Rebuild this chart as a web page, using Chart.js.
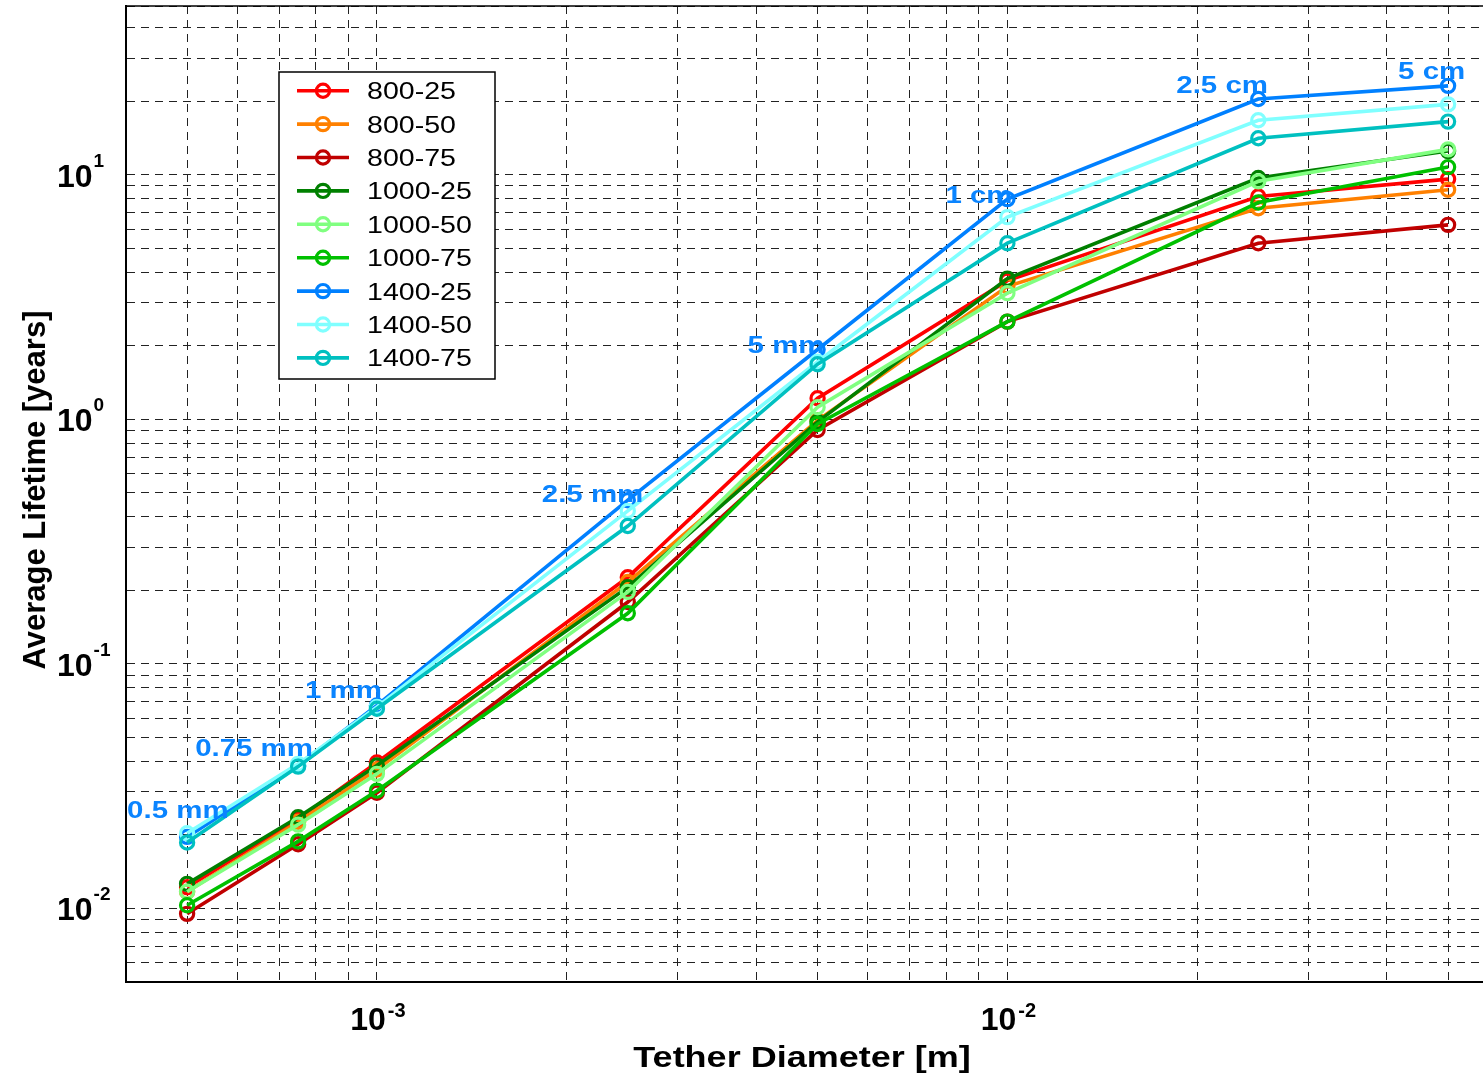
<!DOCTYPE html>
<html>
<head>
<meta charset="utf-8">
<script src="https://cdn.jsdelivr.net/npm/chart.js@4/dist/chart.umd.min.js"></script>
<style>
html,body{margin:0;padding:0;background:#fff;overflow:hidden;}
#wrap{width:1483px;height:1077px;position:relative;overflow:hidden;}
canvas{display:block;}
</style>
</head>
<body>
<div id="wrap"><canvas id="c" width="1483" height="1077"></canvas></div>
<script>
// ---------------- data ----------------
const diameters = [5e-4, 7.5e-4, 1e-3, 2.5e-3, 5e-3, 1e-2, 2.5e-2, 5e-2];
const sizeLabels = ['0.5 mm', '0.75 mm', '1 mm', '2.5 mm', '5 mm', '1 cm', '2.5 cm', '5 cm'];
const seriesNames = ['800-25', '800-50', '800-75', '1000-25', '1000-50', '1000-75', '1400-25', '1400-50', '1400-75'];

const s800_25  = [0.0122, 0.0232, 0.0395, 0.226, 1.22, 3.69, 8.15, 9.6];
const s800_50  = [0.0117, 0.0226, 0.0370, 0.216, 0.99, 3.50, 7.3, 8.68];
const s800_75  = [0.0095, 0.0183, 0.0297, 0.179, 0.904, 2.51, 5.25, 6.24];
const s1000_25 = [0.0126, 0.0236, 0.0384, 0.206, 0.977, 3.76, 9.7, 12.5];
const s1000_50 = [0.0117, 0.0220, 0.0355, 0.197, 1.12, 3.28, 9.4, 12.7];
const s1000_75 = [0.0103, 0.0188, 0.0303, 0.161, 0.957, 2.51, 7.7, 10.75];
const s1400_25 = [0.0196, 0.0384, 0.0676, 0.467, 1.93, 7.95, 20.4, 23.1];
const s1400_50 = [0.0203, 0.0390, 0.0667, 0.422, 1.72, 6.71, 16.7, 19.4];
const s1400_75 = [0.0186, 0.0380, 0.0655, 0.366, 1.68, 5.25, 14.1, 16.5];

const seriesValues = [s800_25, s800_50, s800_75, s1000_25, s1000_50, s1000_75, s1400_25, s1400_50, s1400_75];

const xDecadeTicks = [1e-3, 1e-2];
const xTickExponents = ['-3', '-2'];
const yDecadeTicks = [1e-2, 1e-1, 1, 10];
const yTickExponents = ['-2', '-1', '0', '1'];
const xRange = [4e-4, 0.0568];
const yRange = [0.005, 49];

const xTitle = 'Tether Diameter [m]';
const yTitle = 'Average Lifetime [years]';

// ---------------- styles ----------------
const colors = ['#FF0000', '#FF8000', '#C00000', '#008000', '#80FF80', '#00C000', '#0080FF', '#80FFFF', '#00C0C0'];
const FONT = "'Liberation Sans', Arial, Helvetica, sans-serif";
const LABEL_SERIES = 6; // size labels are attached to the 1400-25 curve
const labelOffsets = [[-60, -19], [-103, -9], [-72, -7], [-86, 2], [-70, 4], [-62, 4], [-82, -6], [-50, -7]];

function logTicks(min, max) {
  const out = [];
  for (let e = Math.floor(Math.log10(min)) - 1; e <= Math.ceil(Math.log10(max)); e++) {
    for (let m = 1; m <= 9; m++) {
      const v = parseFloat((m * Math.pow(10, e)).toPrecision(6));
      if (v >= min * 0.99999 && v <= max * 1.00001) out.push({ value: v });
    }
  }
  if (out.length === 0 || out[0].value > min) out.unshift({ value: min });
  if (out[out.length - 1].value < max) out.push({ value: max });
  return out;
}

function stretchText(ctx, text, x, y, sx, align) {
  const w = ctx.measureText(text).width * sx;
  let x0 = x;
  if (align === 'center') x0 = x - w / 2;
  else if (align === 'right') x0 = x - w;
  ctx.save();
  ctx.translate(x0, y);
  ctx.scale(sx, 1);
  ctx.textAlign = 'left';
  ctx.fillText(text, 0, 0);
  ctx.restore();
  return w;
}

const datasets = seriesNames.map((name, i) => ({
  label: name,
  data: diameters.map((d, j) => ({ x: d, y: seriesValues[i][j] })),
  borderColor: colors[i],
  backgroundColor: colors[i],
  borderWidth: 3.6,
  pointRadius: 6.6,
  pointHoverRadius: 6.6,
  pointBorderWidth: 3.2,
  pointBackgroundColor: 'rgba(255,255,255,0)',
  pointBorderColor: colors[i],
  tension: 0,
  fill: false,
  order: seriesNames.length - i
}));

const decorPlugin = {
  id: 'decor',
  afterDraw(chart) {
    const ctx = chart.ctx;
    const xs = chart.scales.x, ys = chart.scales.y;
    const ca = chart.chartArea;

    // top border
    ctx.save();
    ctx.strokeStyle = '#000';
    ctx.lineWidth = 1.5;
    ctx.beginPath();
    ctx.moveTo(ca.left, ca.top);
    ctx.lineTo(ca.right, ca.top);
    ctx.stroke();
    ctx.restore();

    ctx.save();
    ctx.fillStyle = '#000';
    ctx.textBaseline = 'alphabetic';

    // y tick labels
    yDecadeTicks.forEach((v, i) => {
      const py = ys.getPixelForValue(v);
      ctx.font = 'bold 32px ' + FONT;
      const w = ctx.measureText('10').width;
      ctx.fillText('10', 57, py + 12);
      ctx.font = 'bold 19px ' + FONT;
      ctx.fillText(yTickExponents[i], 57 + w + 1, py - 8);
    });

    // x tick labels
    xDecadeTicks.forEach((v, i) => {
      const px = xs.getPixelForValue(v);
      ctx.font = 'bold 32px ' + FONT;
      const w1 = ctx.measureText('10').width;
      ctx.font = 'bold 20px ' + FONT;
      const w2 = ctx.measureText(xTickExponents[i]).width;
      const left = px + 1 - (w1 + 2 + w2) / 2;
      ctx.font = 'bold 32px ' + FONT;
      ctx.fillText('10', left, 1030);
      ctx.font = 'bold 20px ' + FONT;
      ctx.fillText(xTickExponents[i], left + w1 + 2, 1017);
    });

    // axis titles
    ctx.font = 'bold 30px ' + FONT;
    stretchText(ctx, xTitle, 802, 1067, 1.2, 'center');
    ctx.save();
    ctx.translate(45, 490);
    ctx.rotate(-Math.PI / 2);
    ctx.font = 'bold 31px ' + FONT;
    ctx.textAlign = 'center';
    ctx.fillText(yTitle, 0, 0);
    ctx.restore();

    // size labels on the 1400-25 curve
    ctx.fillStyle = '#0A84FF';
    ctx.font = 'bold 23px ' + FONT;
    const meta = chart.getDatasetMeta(LABEL_SERIES);
    sizeLabels.forEach((t, i) => {
      const p = meta.data[i];
      stretchText(ctx, t, p.x + labelOffsets[i][0], p.y + labelOffsets[i][1], 1.28, 'left');
    });

    // legend
    const L = 279, T = 72, R = 495, B = 379;
    ctx.fillStyle = '#fff';
    ctx.fillRect(L, T, R - L, B - T);
    ctx.strokeStyle = '#000';
    ctx.lineWidth = 1.5;
    ctx.strokeRect(L, T, R - L, B - T);
    ctx.font = '24px ' + FONT;
    seriesNames.forEach((name, i) => {
      const cy = 90.7 + 33.4 * i;
      ctx.strokeStyle = colors[i];
      ctx.lineWidth = 3.6;
      ctx.beginPath();
      ctx.moveTo(297, cy);
      ctx.lineTo(349, cy);
      ctx.stroke();
      ctx.lineWidth = 3.2;
      ctx.beginPath();
      ctx.arc(323, cy, 6.6, 0, Math.PI * 2);
      ctx.stroke();
      ctx.fillStyle = '#000';
      stretchText(ctx, name, 367, cy + 8.5, 1.19, 'left');
    });
    ctx.restore();
  }
};

const gridCommon = { color: '#222', lineWidth: 1, drawTicks: false };

new Chart(document.getElementById('c'), {
  type: 'line',
  data: { datasets },
  options: {
    responsive: false,
    animation: false,
    events: [],
    layout: { autoPadding: false, padding: { top: 6, right: 0, left: 0, bottom: 0 } },
    plugins: { legend: { display: false }, tooltip: { enabled: false } },
    scales: {
      x: {
        type: 'logarithmic',
        min: xRange[0], max: xRange[1],
        afterBuildTicks: s => { s.ticks = logTicks(s.min, s.max); },
        afterFit: s => { s.height = 95; },
        ticks: { display: false },
        grid: gridCommon,
        border: { display: true, color: '#000', width: 2, dash: [8, 6] }
      },
      y: {
        type: 'logarithmic',
        min: yRange[0], max: yRange[1],
        afterBuildTicks: s => { s.ticks = logTicks(s.min, s.max); },
        afterFit: s => { s.width = 126; },
        ticks: { display: false },
        grid: gridCommon,
        border: { display: true, color: '#000', width: 2, dash: [8, 6] }
      }
    }
  },
  plugins: [decorPlugin]
});
</script>
</body>
</html>
